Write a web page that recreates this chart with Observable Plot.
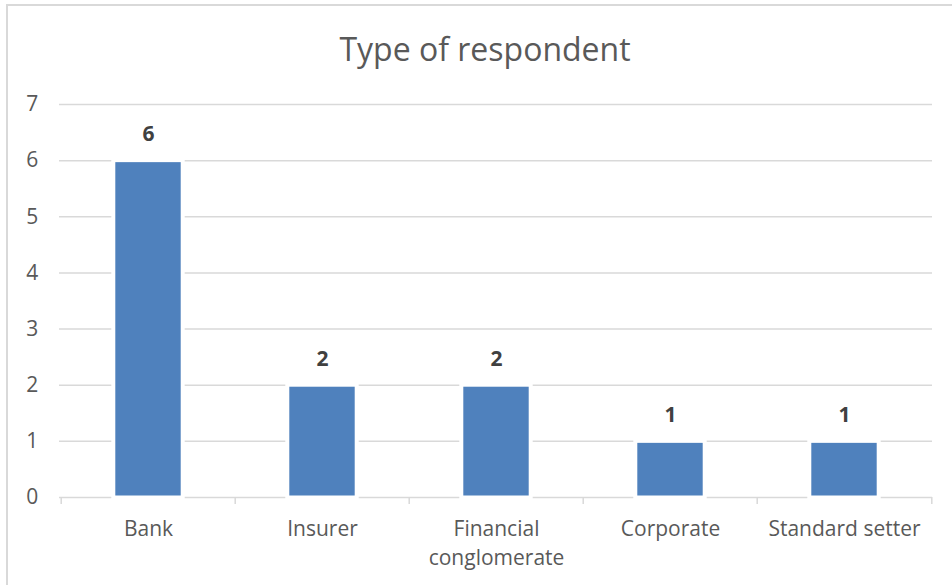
<!DOCTYPE html>
<html>
<head>
<meta charset="utf-8">
<script src="https://cdn.jsdelivr.net/npm/d3@7"></script>
<script src="https://cdn.jsdelivr.net/npm/@observablehq/plot@0.6"></script>
<style>
  html, body { margin: 0; padding: 0; background: #fff; }
  #wrap { position: relative; width: 952px; height: 585px; overflow: hidden; font-family: "Open Sans", sans-serif; }
  #border { position: absolute; left: 6px; top: 4px; width: 980px; height: 620px; border: 2px solid #d9d9d9; box-sizing: border-box; }
  #title { position: absolute; left: 7px; width: 956px; top: 27px; text-align: center; font-size: 32px; color: #595959; line-height: 44px; }
  #chart { position: absolute; left: 0; top: 0; }
</style>
</head>
<body>
<div id="wrap">
  <div id="border"></div>
  <div id="title">Type of respondent</div>
  <div id="chart"></div>
</div>
<script>
const categories = ["Bank", "Insurer", "Financial\nconglomerate", "Corporate", "Standard setter"];
const counts = [6, 2, 2, 1, 1];
const yTicks = [0, 1, 2, 3, 4, 5, 6, 7];

const data = categories.map((c, i) => ({category: c, count: counts[i]}));
const W = 952, H = 585;
const mL = 59, mR = 20, mT = 104, mB = 88;
const band = (W - mL - mR) / categories.length;
const tickLen = 7 / ((H - mT - mB) / 7);

const plot = Plot.plot({
  width: W,
  height: H,
  marginLeft: mL,
  marginRight: mR,
  marginTop: mT,
  marginBottom: mB,
  style: {fontFamily: "Open Sans, sans-serif", background: "transparent", overflow: "visible"},
  x: {domain: categories, padding: 0, axis: null},
  y: {domain: [0, 7], axis: null},
  marks: [
    Plot.ruleY(yTicks.filter(d => d > 0), {stroke: "#d9d9d9", strokeWidth: 1.5}),
    Plot.ruleY([0], {stroke: "#d9d9d9", strokeWidth: 1.5}),
    Plot.ruleX(categories, {x: d => d, y1: 0, y2: -tickLen, dx: -band / 2, stroke: "#d9d9d9", strokeWidth: 1.5}),
    Plot.ruleX([categories[categories.length - 1]], {x: d => d, y1: 0, y2: -tickLen, dx: band / 2, stroke: "#d9d9d9", strokeWidth: 1.5}),
    Plot.barY(data, {x: "category", y: "count", fill: "#4f81bd", stroke: "#ffffff", strokeWidth: 8, paintOrder: "stroke",
      insetLeft: (band - 66) / 2, insetRight: (band - 66) / 2, insetTop: 2, insetBottom: 1.5}),
    Plot.text(data, {x: "category", y: "count", text: d => String(d.count), dy: -26, fontSize: 21, fontWeight: "bold", fill: "#404040"}),
    Plot.text(yTicks, {x: () => categories[0], y: d => d, text: d => String(d), dx: -band / 2 - 23, textAnchor: "end", fontSize: 21, fill: "#595959"}),
    Plot.text(data, {x: "category", y: 0, text: "category", dy: 18, lineAnchor: "top", lineHeight: 1.38, textAnchor: "middle", fontSize: 21, fill: "#595959"})
  ]
});
document.getElementById("chart").appendChild(plot);
</script>
</body>
</html>
